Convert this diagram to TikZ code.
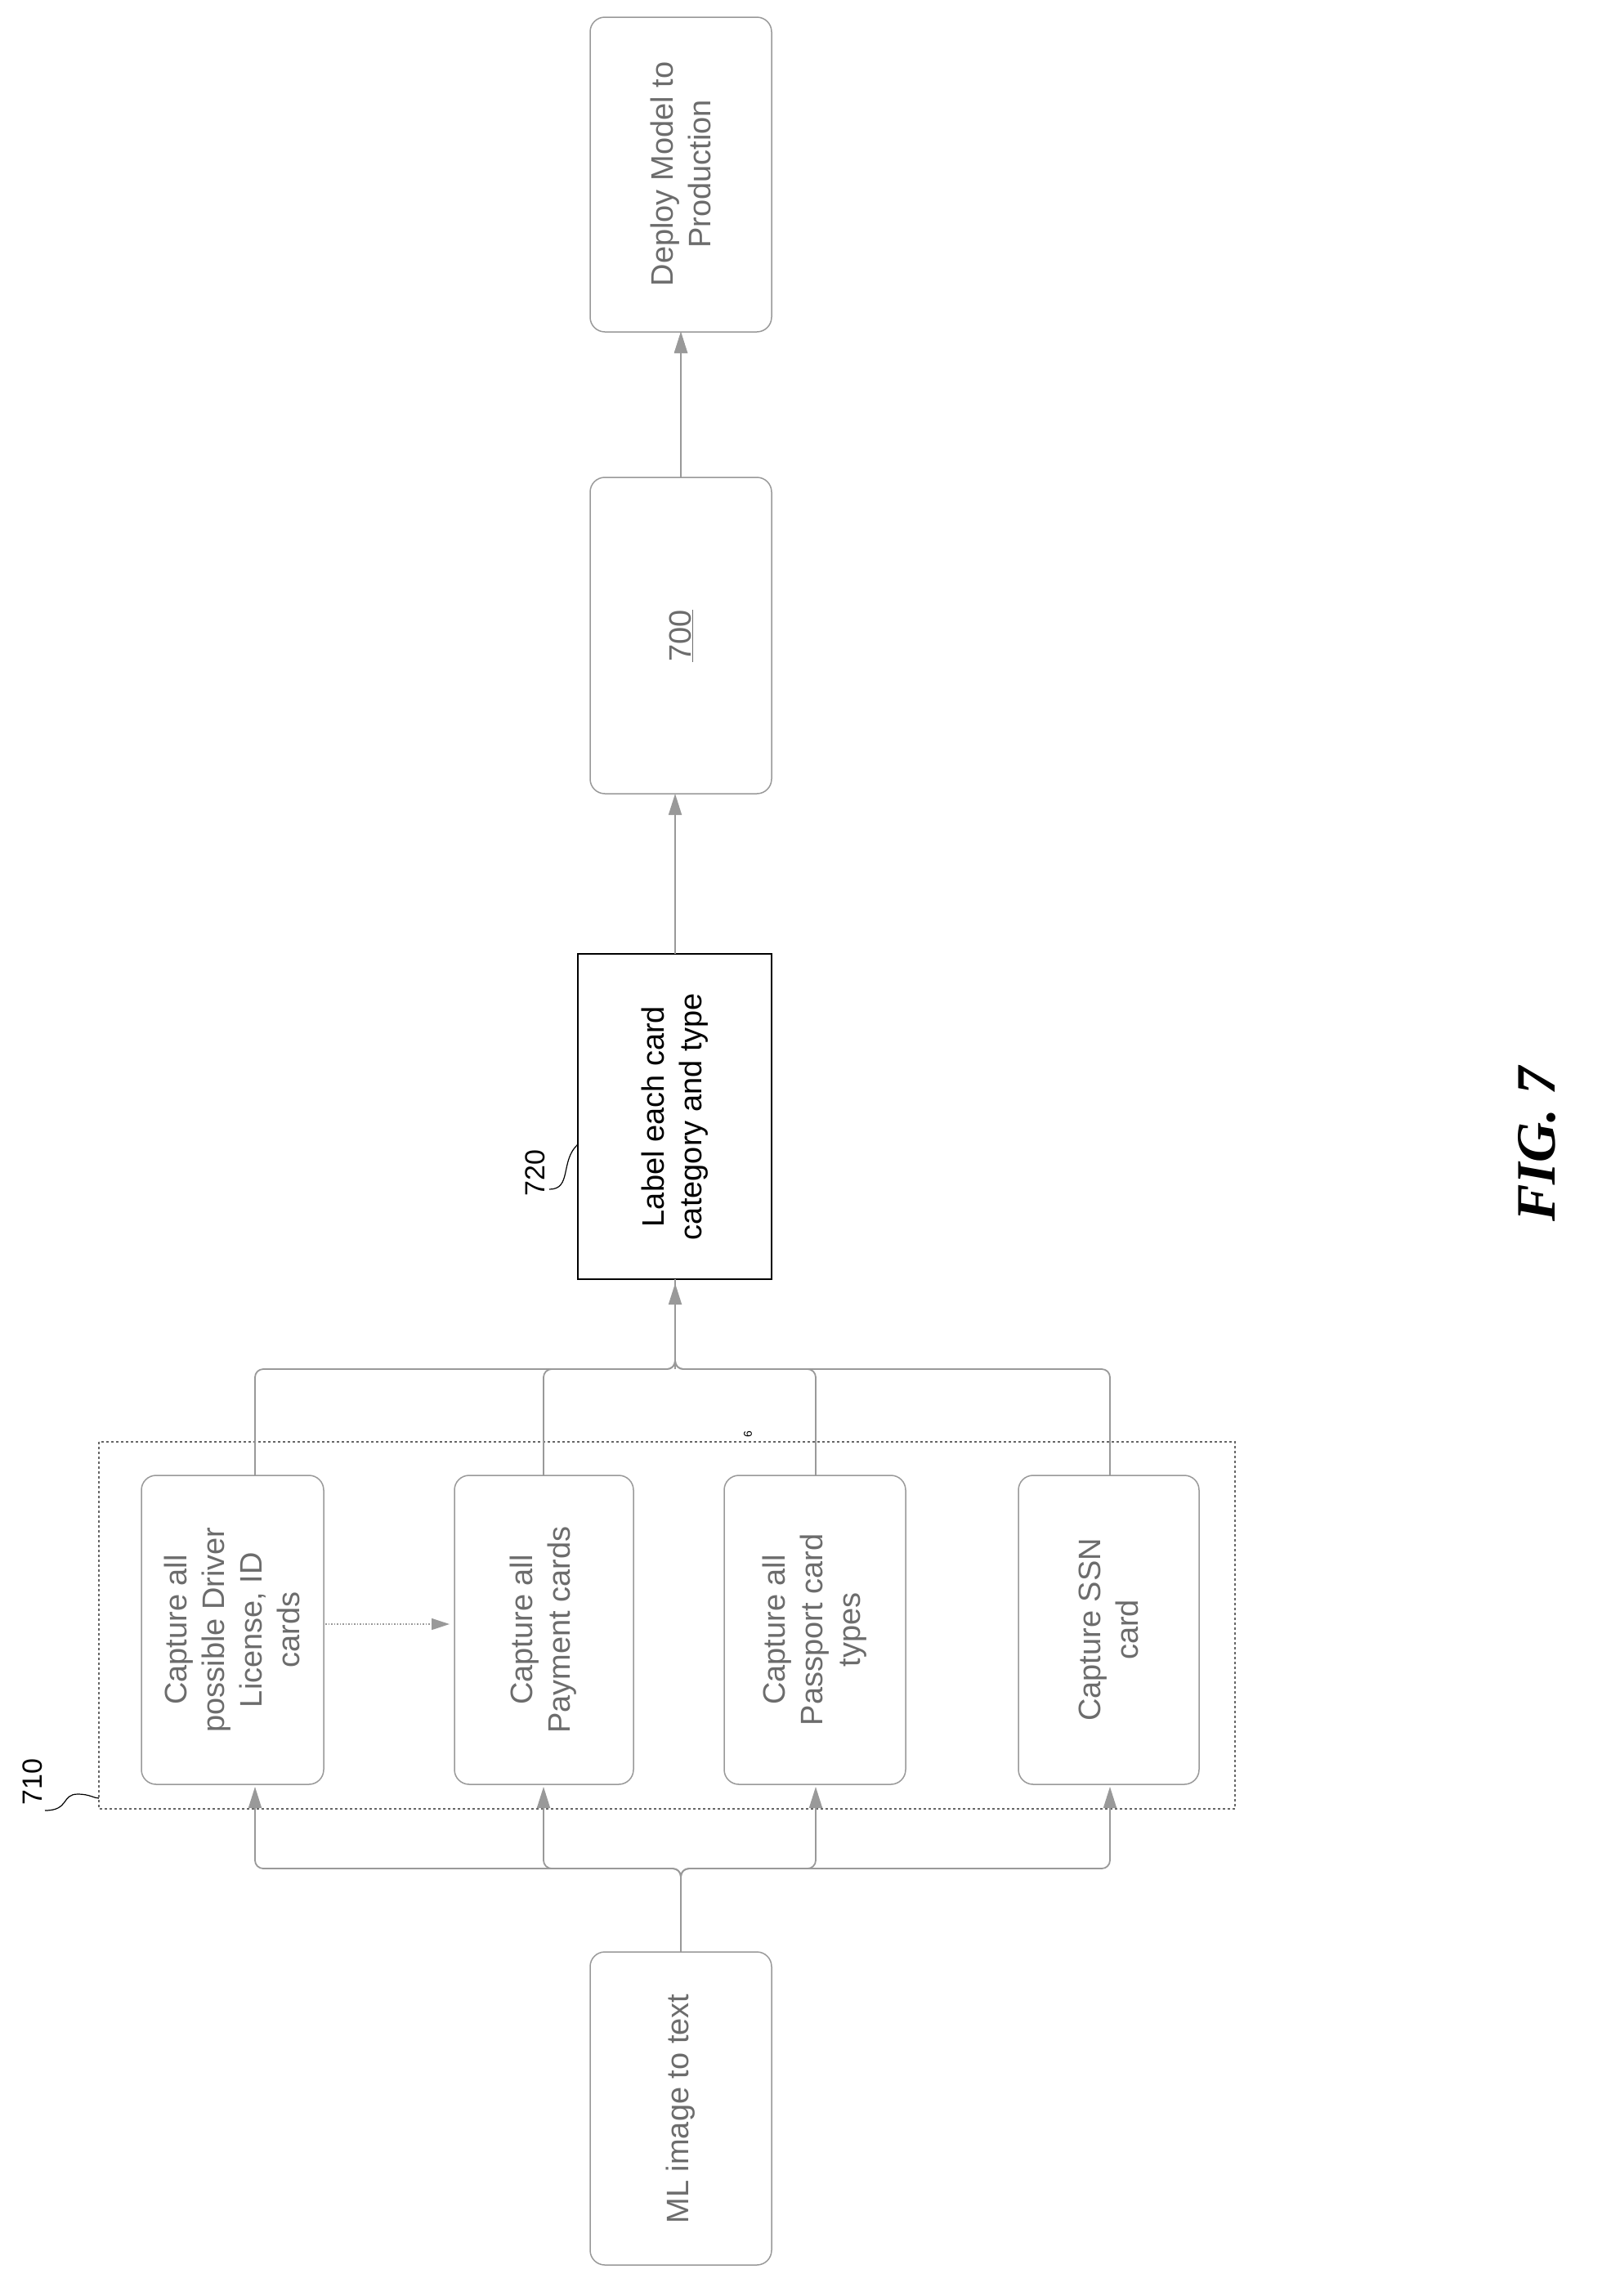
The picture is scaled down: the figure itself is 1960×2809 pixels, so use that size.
\documentclass[tikz,border=0pt]{standalone}
\usepackage{fontspec}
\setmainfont{Liberation Sans}
\newfontfamily\figfont{Liberation Serif}
\usetikzlibrary{arrows.meta}
\begin{document}
\begin{tikzpicture}[x=1pt,y=-1pt,
  rbox/.style={draw=gray!80,rounded corners=18pt,line width=1.5pt},
  txt/.style={rotate=90,align=center,text=gray!85!black,font=\fontsize{38}{46}\selectfont},
  conn/.style={draw=gray!80,line width=1.8pt,rounded corners=10pt},
  arr/.style={conn,-{Triangle[length=26pt,width=16pt]}}]
\useasboundingbox (0,0) rectangle (1960,2809);
% boxes
\draw[rbox] (722,21) rectangle (944,406); \node[txt] (deploy) at (833,213) {Deploy Model to\\Production};
\coordinate (deployB) at (833,406);
\draw[rbox] (722,584) rectangle (944,971); \node[txt] (n700) at (833,778) {\underline{700}};
\coordinate (n700T) at (833,584); \coordinate (n700B) at (833,971);
\draw[line width=2pt] (707,1167) rectangle (944,1565);
\node[txt,text=black] (label) at (826,1366) {Label each card\\category and type};
\coordinate (labelB) at (826,1565);
\draw[rbox] (722,2388) rectangle (944,2771); \node[txt] (ml) at (833,2580) {ML image to text};
\coordinate (mlT) at (833,2388);
% dashed group
\draw[gray!80!black,dashed,line width=1.3pt] (121,1764) rectangle (1511,2213);
% cards
\draw[rbox] (173,1805) rectangle (396,2183); \node[txt] (dl) at (284,1994) {Capture all\\possible Driver\\License, ID\\cards};
\draw[rbox] (556,1805) rectangle (775,2183); \node[txt] (pay) at (665,1994) {Capture all\\Payment cards};
\draw[rbox] (886,1805) rectangle (1108,2183); \node[txt] (pass) at (997,1994) {Capture all\\Passport card\\types};
\draw[rbox] (1246,1805) rectangle (1467,2183); \node[txt] (ssn) at (1356,1994) {Capture SSN\\card};
% connectors
\draw[arr] (n700T) ++(0,-178) coordinate (x) ;
\draw[arr] (833,584) -- (833,406);
\draw[arr] (826,1167) -- (826,971);
\foreach \xx in {312,665,998,1358}{
  \draw[conn] (\xx,1805) -- (\xx,1675) -- (826,1675) -- (826,1565);
  \draw[arr] (833,2388) -- (833,2286) -- (\xx,2286) -- (\xx,2186);
}
\draw[arr] (826,1675) -- (826,1570);
\draw[draw=gray!80,dotted,line width=1.5pt,-{Triangle[length=22pt,width=14pt]}] (398,1987) -- (550,1987);
% labels
\node[rotate=90,font=\fontsize{34}{40}\selectfont] (l710) at (40,2180) {710};
\draw[line width=1.2pt] (55,2215) .. controls (85,2215) and (75,2195) .. (95,2195) .. controls (110,2195) and (115,2200) .. (121,2200);
\node[rotate=90,font=\fontsize{34}{40}\selectfont] (l720) at (655,1435) {720};
\draw[line width=1.2pt] (672,1455) .. controls (700,1455) and (685,1420) .. (707,1400);
\node[rotate=90,font=\fontsize{14}{16}\selectfont] (mark) at (915,1755) {6};
\node[rotate=90,font=\figfont\bfseries\itshape\fontsize{68}{76}\selectfont] (fig) at (1880,1400) {FIG. 7};
\end{tikzpicture}
\end{document}
